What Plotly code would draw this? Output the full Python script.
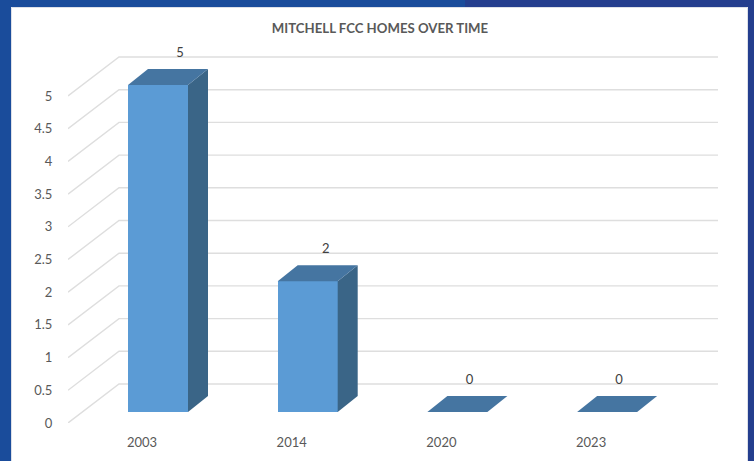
import plotly.graph_objects as go

categories = ["2003", "2014", "2020", "2023"]
values = [5, 2, 0, 0]
y_ticks = [0, 0.5, 1, 1.5, 2, 2.5, 3, 3.5, 4, 4.5, 5]
y_tick_labels = ["0", "0.5", "1", "1.5", "2", "2.5", "3", "3.5", "4", "4.5", "5"]
title = "MITCHELL FCC HOMES OVER TIME"

W, H = 754, 461
L, R, T, B = 68, 718, 40, 423
PX_X = 149.7   # px per category
PX_Y = 65.4    # px per unit
AXIS_DROP = 11 / PX_Y        # printed axis sits below the bar floor
WALL_DX, WALL_DY = 51 / PX_X, 39 / PX_Y   # floor depth
BAR_DX, BAR_DY = 20 / PX_X, 16 / PX_Y     # bar depth
BAR_W = 60 / PX_X
FONT = "Lato"
TEXT = "#595959"
GRID = "#dedede"
LABEL_NUDGE_PX = [22, 18, 12, 12]


def px_x(p):
    return (p - L) / (R - L)


def px_y(p):
    return (B - p) / (B - T)


x = list(range(len(categories)))
fig = go.Figure()

x_left = (L - 158) / PX_X
x_right = (R - 158) / PX_X

shapes = [
    dict(type="rect", xref="paper", yref="paper", x0=px_x(0), x1=px_x(11), y0=px_y(H), y1=px_y(0),
         fillcolor="#1a4c9b", line_width=0, layer="below"),
    dict(type="rect", xref="paper", yref="paper", x0=px_x(748), x1=px_x(W), y0=px_y(H), y1=px_y(0),
         fillcolor="#243e8e", line_width=0, layer="below"),
    dict(type="rect", xref="paper", yref="paper", x0=px_x(0), x1=px_x(465), y0=px_y(7), y1=px_y(0),
         fillcolor="#1a4c9b", line_width=0, layer="below"),
    dict(type="rect", xref="paper", yref="paper", x0=px_x(465), x1=px_x(W), y0=px_y(7), y1=px_y(0),
         fillcolor="#243e8e", line_width=0, layer="below"),
    dict(type="rect", xref="paper", yref="paper", x0=px_x(11.5), x1=px_x(747.5), y0=px_y(H + 5), y1=px_y(7.5),
         fillcolor="white", line=dict(color="#dde0e8", width=1), layer="below"),
]

# Walls: horizontal grid on back wall, receding lines on the side wall
for v in y_ticks:
    y0 = v - AXIS_DROP
    shapes.append(dict(type="path", xref="x", yref="y", layer="below",
                       path=f"M {x_left} {y0} L {x_left + WALL_DX} {y0 + WALL_DY} L {x_right} {y0 + WALL_DY}",
                       line=dict(color=GRID, width=1.4)))

# Front faces
fig.add_trace(go.Bar(x=x, y=values, width=BAR_W, marker=dict(color="#5b9bd5", line_width=0),
                     showlegend=False))

# Side and top faces
for xi, v in zip(x, values):
    xl, xr = xi - BAR_W / 2, xi + BAR_W / 2
    if v > 0:
        fig.add_trace(go.Scatter(
            x=[xr, xr + BAR_DX, xr + BAR_DX, xr, xr],
            y=[0, BAR_DY, v + BAR_DY, v, 0],
            mode="lines", fill="toself", fillcolor="#3a6587", line=dict(width=0),
            hoverinfo="skip", showlegend=False))
    fig.add_trace(go.Scatter(
        x=[xl, xr, xr + BAR_DX, xl + BAR_DX, xl],
        y=[v, v, v + BAR_DY, v + BAR_DY, v],
        mode="lines", fill="toself", fillcolor="#4575a1", line=dict(width=0),
        hoverinfo="skip", showlegend=False))

# Data labels
fig.add_trace(go.Scatter(
    x=[xi + d / PX_X for xi, d in zip(x, LABEL_NUDGE_PX)],
    y=[v + 31 / PX_Y for v in values],
    mode="text", text=[str(v) for v in values], textposition="middle center",
    textfont=dict(family=FONT, size=13, color="#404040"),
    cliponaxis=False, hoverinfo="skip", showlegend=False))

fig.update_layout(
    width=W, height=H, autosize=False,
    margin=dict(l=L, r=W - R, t=T, b=H - B),
    paper_bgcolor="white", plot_bgcolor="rgba(0,0,0,0)",
    font=dict(family=FONT, size=13, color=TEXT),
    title=dict(text="<b>" + title + "</b>", x=380 / W, xanchor="center", xref="container",
               y=1 - 28 / H, yanchor="middle", yref="container",
               font=dict(family=FONT, size=13.2, color=TEXT)),
    shapes=shapes, bargap=0,
    xaxis=dict(range=[x_left, x_right], tickmode="array",
               tickvals=[xi - 16 / PX_X for xi in x], ticktext=categories,
               showgrid=False, zeroline=False, showline=False, ticks="outside",
               ticklen=7, tickcolor="rgba(0,0,0,0)", fixedrange=True),
    yaxis=dict(range=[-AXIS_DROP, (B - T) / PX_Y - AXIS_DROP], tickmode="array",
               tickvals=[v - AXIS_DROP for v in y_ticks], ticktext=y_tick_labels,
               showgrid=False, zeroline=False, showline=False, ticks="outside",
               ticklen=12, tickcolor="rgba(0,0,0,0)", fixedrange=True),
)

fig.write_html("out.html", config=dict(displayModeBar=False),
               post_script="document.body.style.margin='0';document.documentElement.style.overflow='hidden';")
